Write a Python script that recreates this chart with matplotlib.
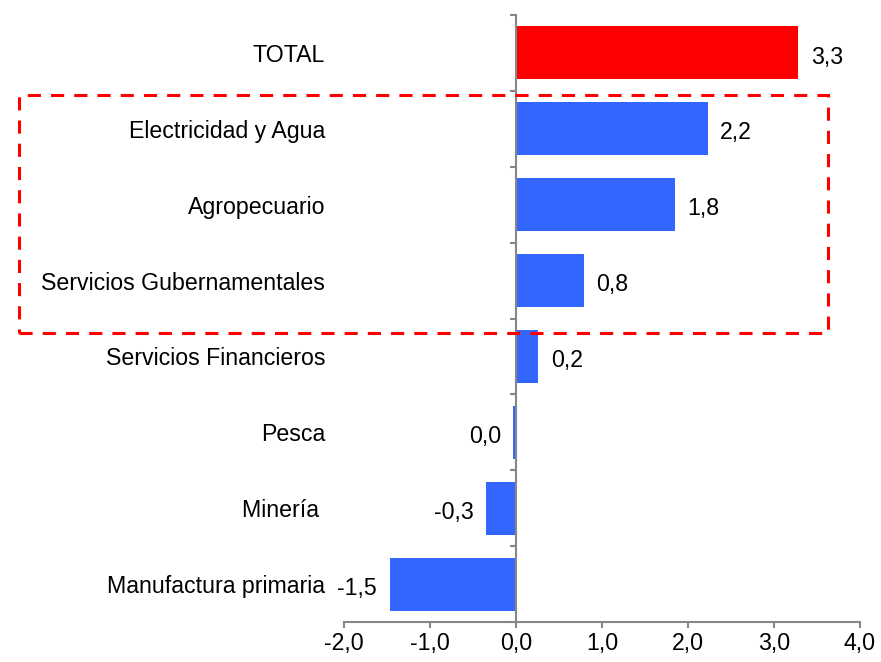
import numpy as np
import matplotlib
matplotlib.use('Agg')
import matplotlib.pyplot as plt
from matplotlib.patches import Rectangle

plt.rcParams['font.family'] = ['Liberation Sans', 'DejaVu Sans']

# sectores (de arriba hacia abajo)
sectores = ['TOTAL', 'Electricidad y Agua', 'Agropecuario', 'Servicios Gubernamentales',
            'Servicios Financieros', 'Pesca', 'Minería ', 'Manufactura primaria']
valores = [3.28, 2.23, 1.85, 0.79, 0.26, -0.03, -0.35, -1.47]
etiquetas = ['3,3', '2,2', '1,8', '0,8', '0,2', '0,0', '-0,3', '-1,5']
xticks = [-2, -1, 0, 1, 2, 3, 4]
xticklabels = ['-2,0', '-1,0', '0,0', '1,0', '2,0', '3,0', '4,0']

azul = '#3366FF'
rojo = '#FF0000'
gris = '#868686'
fs = 16.7

fig = plt.figure(figsize=(8.81, 6.62), dpi=100)
ax = fig.add_axes([344/881, 40/662, 516/881, 607/662])

ypos = np.arange(len(sectores))
colores = [rojo] + [azul]*(len(sectores)-1)
ax.barh(ypos, valores, height=0.7, color=colores, zorder=2)

ax.set_xlim(-2, 4)
ax.set_ylim(len(sectores)-0.5, -0.5)

for s in ['top', 'right']:
    ax.spines[s].set_visible(False)
ax.spines['left'].set_position(('data', 0))
ax.spines['left'].set_color(gris)
ax.spines['bottom'].set_color(gris)
ax.spines['left'].set_linewidth(1.5)
ax.spines['bottom'].set_linewidth(1.5)
ax.spines['left'].set_zorder(3)

ax.set_xticks(xticks)
ax.set_xticklabels(xticklabels, fontsize=fs)
ax.tick_params(axis='x', direction='out', length=4.5, width=1.5, color=gris, pad=3)

ax.set_yticks(ypos)
ax.set_yticklabels(sectores, fontsize=fs)
ax.set_yticks(np.arange(len(sectores)+1) - 0.5, minor=True)
ax.tick_params(axis='y', which='major', length=0, pad=137.5)
ax.tick_params(axis='y', which='minor', direction='out', length=4.5, width=1.5, color=gris)

for y, v, t in zip(ypos, valores, etiquetas):
    if v >= 0:
        ax.annotate(t, (v, y), xytext=(9, -3), textcoords='offset points',
                    ha='left', va='center', fontsize=fs)
    else:
        ax.annotate(t, (v, y), xytext=(-9, -3), textcoords='offset points',
                    ha='right', va='center', fontsize=fs)

# recuadro punteado
rect = Rectangle((19/881, (662-333)/662), (828-19)/881, (333-95)/662,
                 transform=fig.transFigure, fill=False, edgecolor=rojo,
                 linewidth=2.2, linestyle=(0, (4.3, 3.3)), clip_on=False, zorder=5)
fig.patches.append(rect)

fig.savefig('out.png', dpi=100)
